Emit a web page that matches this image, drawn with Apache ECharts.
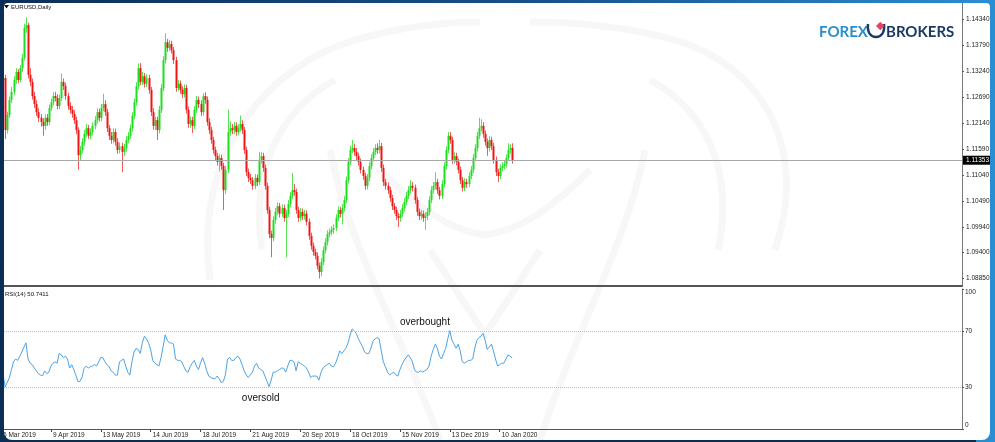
<!DOCTYPE html>
<html><head><meta charset="utf-8">
<script src="https://cdn.jsdelivr.net/npm/echarts@6/dist/echarts.min.js"></script>
<style>html,body{margin:0;padding:0;background:#fff;}#c{width:995px;height:442px;}</style>
</head><body><div id="c"></div>
<script>
// ---------- data ----------
const symbolTitle = 'EURUSD,Daily';
const tickLabels = ['6 Mar 2019','9 Apr 2019','13 May 2019','14 Jun 2019','18 Jul 2019','21 Aug 2019','20 Sep 2019','18 Oct 2019','15 Nov 2019','13 Dec 2019','10 Jan 2020'];
const tickEvery = 24;      // bars between date labels
const slotCount = 463;     // bar slots visible on the chart
const priceTicks = [1.14340,1.13790,1.13240,1.12690,1.12140,1.11590,1.11040,1.10490,1.09940,1.09400,1.08850];
const priceMin = 1.08692, priceMax = 1.14679;
const rsiTicks = [0,30,70,100];
const rsiLevels = [70,30];
const lastPrice = 1.11353;

const closes = [1.1305,1.1309,1.1199,1.1231,1.1263,1.1280,1.1305,1.1322,1.1305,1.1330,
1.1352,1.1415,1.1421,1.1316,1.1301,1.1271,1.1254,1.1237,1.1225,1.1216,
1.1208,1.1225,1.1216,1.1246,1.1258,1.1271,1.1267,1.1250,1.1267,1.1301,
1.1292,1.1271,1.1250,1.1242,1.1233,1.1220,1.1199,1.1146,1.1157,1.1174,
1.1191,1.1203,1.1187,1.1195,1.1208,1.1220,1.1237,1.1225,1.1246,1.1254,
1.1237,1.1203,1.1187,1.1178,1.1195,1.1174,1.1157,1.1165,1.1153,1.1161,
1.1178,1.1187,1.1203,1.1229,1.1258,1.1292,1.1330,1.1301,1.1313,1.1297,
1.1309,1.1284,1.1237,1.1208,1.1220,1.1199,1.1242,1.1288,1.1347,1.1385,
1.1373,1.1381,1.1368,1.1347,1.1288,1.1297,1.1284,1.1275,1.1288,1.1242,
1.1212,1.1220,1.1208,1.1242,1.1263,1.1254,1.1237,1.1271,1.1263,1.1216,
1.1199,1.1178,1.1157,1.1144,1.1132,1.1140,1.1123,1.1072,1.1115,1.1195,
1.1203,1.1199,1.1208,1.1195,1.1203,1.1212,1.1199,1.1157,1.1110,1.1098,
1.1093,1.1081,1.1098,1.1089,1.1136,1.1144,1.1119,1.1081,1.1030,1.0979,
1.0971,1.1009,1.1026,1.1038,1.1022,1.1034,1.1013,1.1022,1.1043,1.1060,
1.1072,1.1068,1.1030,1.1013,1.1026,1.1017,1.1022,1.1005,1.0975,1.0954,
1.0941,1.0933,1.0912,1.0899,1.0920,1.0945,1.0962,1.0979,1.0983,1.0988,
1.0992,1.1013,1.1030,1.1022,1.1034,1.1051,1.1093,1.1132,1.1157,1.1161,
1.1153,1.1144,1.1132,1.1115,1.1102,1.1081,1.1098,1.1123,1.1140,1.1153,
1.1161,1.1157,1.1165,1.1119,1.1089,1.1081,1.1072,1.1055,1.1038,1.1030,
1.1017,1.1013,1.1022,1.1034,1.1047,1.1060,1.1072,1.1081,1.1077,1.1051,
1.1026,1.1017,1.1022,1.1013,1.1017,1.1026,1.1051,1.1072,1.1081,1.1089,
1.1072,1.1060,1.1085,1.1123,1.1157,1.1187,1.1178,1.1136,1.1144,1.1132,
1.1115,1.1093,1.1077,1.1089,1.1085,1.1102,1.1115,1.1140,1.1161,1.1187,
1.1203,1.1208,1.1191,1.1174,1.1161,1.1178,1.1165,1.1136,1.1110,1.1102,
1.1119,1.1123,1.1127,1.1140,1.1157,1.1161,1.11353];

const opens = [1.1290,1.1305,1.1309,1.1199,1.1231,1.1263,1.1280,1.1305,1.1322,1.1305,
1.1330,1.1352,1.1415,1.1421,1.1316,1.1301,1.1271,1.1254,1.1237,1.1225,
1.1216,1.1208,1.1225,1.1216,1.1246,1.1258,1.1271,1.1267,1.1250,1.1267,
1.1301,1.1292,1.1271,1.1250,1.1242,1.1233,1.1220,1.1199,1.1146,1.1157,
1.1174,1.1191,1.1203,1.1187,1.1195,1.1208,1.1220,1.1237,1.1225,1.1246,
1.1254,1.1237,1.1203,1.1187,1.1178,1.1195,1.1174,1.1157,1.1165,1.1153,
1.1161,1.1178,1.1187,1.1203,1.1229,1.1258,1.1292,1.1330,1.1301,1.1313,
1.1297,1.1309,1.1284,1.1237,1.1208,1.1220,1.1199,1.1242,1.1288,1.1347,
1.1385,1.1373,1.1381,1.1368,1.1347,1.1288,1.1297,1.1284,1.1275,1.1288,
1.1242,1.1212,1.1220,1.1208,1.1242,1.1263,1.1254,1.1237,1.1271,1.1263,
1.1216,1.1199,1.1178,1.1157,1.1144,1.1132,1.1140,1.1123,1.1072,1.1115,
1.1195,1.1203,1.1199,1.1208,1.1195,1.1203,1.1212,1.1199,1.1157,1.1110,
1.1098,1.1093,1.1081,1.1098,1.1089,1.1136,1.1144,1.1119,1.1081,1.1030,
1.0979,1.0971,1.1009,1.1026,1.1038,1.1022,1.1034,1.1013,1.1022,1.1043,
1.1060,1.1072,1.1068,1.1030,1.1013,1.1026,1.1017,1.1022,1.1005,1.0975,
1.0954,1.0941,1.0933,1.0912,1.0899,1.0920,1.0945,1.0962,1.0979,1.0983,
1.0988,1.0992,1.1013,1.1030,1.1022,1.1034,1.1051,1.1093,1.1132,1.1157,
1.1161,1.1153,1.1144,1.1132,1.1115,1.1102,1.1081,1.1098,1.1123,1.1140,
1.1153,1.1161,1.1157,1.1165,1.1119,1.1089,1.1081,1.1072,1.1055,1.1038,
1.1030,1.1017,1.1013,1.1022,1.1034,1.1047,1.1060,1.1072,1.1081,1.1077,
1.1051,1.1026,1.1017,1.1022,1.1013,1.1017,1.1026,1.1051,1.1072,1.1081,
1.1089,1.1072,1.1060,1.1085,1.1123,1.1157,1.1187,1.1178,1.1136,1.1144,
1.1132,1.1115,1.1093,1.1077,1.1089,1.1085,1.1102,1.1115,1.1140,1.1161,
1.1187,1.1203,1.1208,1.1191,1.1174,1.1161,1.1178,1.1165,1.1136,1.1110,
1.1102,1.1119,1.1123,1.1127,1.1140,1.1157,1.1161];

const highs = [1.1312,1.1318,1.1316,1.1238,1.1270,1.1290,1.1313,1.1330,1.1328,1.1337,
1.1360,1.1424,1.1437,1.1426,1.1330,1.1308,1.1280,1.1262,1.1245,1.1233,
1.1224,1.1232,1.1233,1.1253,1.1266,1.1279,1.1280,1.1275,1.1274,1.1319,
1.1308,1.1299,1.1278,1.1258,1.1250,1.1241,1.1228,1.1205,1.1166,1.1182,
1.1199,1.1212,1.1210,1.1203,1.1215,1.1229,1.1245,1.1244,1.1254,1.1276,
1.1262,1.1244,1.1210,1.1195,1.1203,1.1202,1.1182,1.1173,1.1172,1.1170,
1.1186,1.1195,1.1211,1.1237,1.1266,1.1300,1.1340,1.1341,1.1322,1.1320,
1.1317,1.1316,1.1290,1.1245,1.1228,1.1227,1.1250,1.1296,1.1355,1.1404,
1.1392,1.1390,1.1388,1.1375,1.1354,1.1305,1.1304,1.1292,1.1296,1.1295,
1.1249,1.1228,1.1227,1.1250,1.1271,1.1270,1.1262,1.1277,1.1279,1.1270,
1.1224,1.1206,1.1185,1.1164,1.1151,1.1148,1.1147,1.1130,1.1123,1.1242,
1.1218,1.1212,1.1216,1.1215,1.1211,1.1230,1.1220,1.1206,1.1164,1.1118,
1.1106,1.1100,1.1106,1.1105,1.1153,1.1152,1.1151,1.1126,1.1088,1.1037,
1.0986,1.1017,1.1034,1.1046,1.1045,1.1042,1.1041,1.1030,1.1051,1.1068,
1.1108,1.1085,1.1075,1.1037,1.1034,1.1033,1.1030,1.1029,1.1012,1.0982,
1.0961,1.0948,1.0940,1.0919,1.0928,1.0953,1.0970,1.0987,1.0991,1.0996,
1.1000,1.1021,1.1038,1.1037,1.1042,1.1059,1.1101,1.1140,1.1166,1.1178,
1.1170,1.1161,1.1151,1.1139,1.1122,1.1109,1.1106,1.1131,1.1148,1.1161,
1.1169,1.1171,1.1178,1.1172,1.1126,1.1096,1.1088,1.1079,1.1062,1.1045,
1.1037,1.1024,1.1030,1.1042,1.1055,1.1068,1.1080,1.1093,1.1089,1.1084,
1.1058,1.1033,1.1030,1.1029,1.1025,1.1034,1.1059,1.1080,1.1089,1.1110,
1.1096,1.1079,1.1093,1.1131,1.1165,1.1195,1.1195,1.1185,1.1152,1.1151,
1.1139,1.1122,1.1100,1.1097,1.1096,1.1110,1.1123,1.1148,1.1169,1.1195,
1.1225,1.1222,1.1216,1.1198,1.1181,1.1186,1.1185,1.1172,1.1143,1.1117,
1.1127,1.1131,1.1135,1.1148,1.1171,1.1169,1.1171];

const lows = [1.1284,1.1298,1.1180,1.1192,1.1225,1.1256,1.1274,1.1297,1.1298,1.1300,
1.1322,1.1346,1.1405,1.1308,1.1292,1.1264,1.1246,1.1229,1.1216,1.1206,
1.1187,1.1200,1.1208,1.1210,1.1239,1.1251,1.1260,1.1243,1.1243,1.1260,
1.1284,1.1263,1.1242,1.1234,1.1225,1.1212,1.1190,1.1115,1.1136,1.1150,
1.1166,1.1184,1.1180,1.1179,1.1188,1.1201,1.1213,1.1217,1.1218,1.1239,
1.1229,1.1195,1.1178,1.1170,1.1171,1.1166,1.1149,1.1150,1.1110,1.1145,
1.1154,1.1171,1.1180,1.1196,1.1222,1.1251,1.1285,1.1294,1.1294,1.1289,
1.1290,1.1276,1.1229,1.1200,1.1199,1.1178,1.1192,1.1235,1.1281,1.1340,
1.1365,1.1366,1.1361,1.1339,1.1280,1.1281,1.1276,1.1267,1.1268,1.1234,
1.1204,1.1204,1.1193,1.1201,1.1235,1.1246,1.1229,1.1230,1.1255,1.1208,
1.1191,1.1170,1.1149,1.1136,1.1124,1.1112,1.1115,1.1030,1.1064,1.1108,
1.1187,1.1190,1.1191,1.1187,1.1188,1.1196,1.1191,1.1149,1.1102,1.1089,
1.1085,1.1073,1.1074,1.1081,1.1083,1.1128,1.1111,1.1073,1.1022,1.0970,
1.0930,1.0964,1.1001,1.1019,1.1014,1.1015,1.1005,1.0930,1.1015,1.1036,
1.1053,1.1060,1.1022,1.1005,1.1006,1.1009,1.1010,1.0997,1.0967,1.0946,
1.0933,1.0925,1.0904,1.0885,1.0890,1.0913,1.0938,1.0955,1.0972,1.0976,
1.0980,1.0985,1.1006,1.1014,1.1000,1.1027,1.1044,1.1086,1.1125,1.1150,
1.1145,1.1136,1.1124,1.1107,1.1094,1.1073,1.1074,1.1091,1.1116,1.1133,
1.1146,1.1149,1.1150,1.1111,1.1081,1.1073,1.1064,1.1047,1.1030,1.1022,
1.1009,1.0994,1.1005,1.1015,1.1027,1.1040,1.1053,1.1065,1.1069,1.1043,
1.1018,1.1009,1.1010,1.1005,1.0988,1.1009,1.1019,1.1044,1.1065,1.1074,
1.1064,1.1052,1.1053,1.1078,1.1116,1.1150,1.1170,1.1128,1.1128,1.1124,
1.1107,1.1085,1.1069,1.1070,1.1077,1.1078,1.1095,1.1108,1.1133,1.1154,
1.1180,1.1196,1.1183,1.1166,1.1145,1.1154,1.1157,1.1128,1.1102,1.1089,
1.1095,1.1112,1.1116,1.1120,1.1133,1.1149,1.1128];

const rsi = [40.5,38.5,30,33.5,36.5,42.5,48,50,49,52,
55,58.5,61.5,50,47,46,43.5,41.5,39.5,38.5,
38,41.5,39.5,40.5,45,47,48,47,54,53,
51,52,50,43.5,46,42.5,38.5,34,34,37,
43.5,45,43.5,44.5,45,46,45,48,51,51,
48,46,44.5,41.5,40.5,38.5,38.5,48,49,50,
45,40.5,38.5,48,55,57.5,56.8,54,61.5,66.3,
64.4,61.5,56.8,49,47,46,45,51,58.7,67.2,
63.4,61.5,61.5,60.6,50,49,49,48,44.5,41.5,
40.5,44.5,47,49,45,42.5,47,51,47,41.5,
37.8,36.8,35.9,35.9,37.8,35.9,33,34,38.7,50,
51,49,49,51,52,50,46,41.5,38.7,36.8,
38.7,40.6,45,47,43.5,42.5,41.5,37.8,34,30.2,
34.9,40.6,40.6,41.6,42.5,43.5,43.5,40.6,45,49,
49,48,41.6,48,47,46,45,43.5,40.6,36.8,
37.8,37.8,37.8,34.9,40.6,43.5,45,46,47,45,
44.5,47,51,55.8,53.9,55.8,57.7,61.5,67.2,71.5,
70.1,68.2,64.4,61.5,58.7,54.9,53.9,53.9,57.7,62.5,
64.4,65.3,64.4,55.8,48,44.5,40.6,38.7,39.7,40.6,
38.7,37.8,42.5,46,49,51,53,51,48,42.5,
40.6,40.6,41.6,40.6,41.6,42.5,45,52,56.8,60.6,
57.7,52,50,53.9,57.7,64.4,70.3,63.4,60.6,57.7,
60.6,55.8,48,47,48,49,49,50,57.7,63.4,
65.3,66.3,68.3,63.4,56.8,58.7,60.6,55.8,50,45,
46,47,47,50,53,52,50.7411];

const rsiNotes = [
  { text: 'overbought', bar: 204, value: 76.6 },
  { text: 'oversold',   bar: 125, value: 21.9 }
];

// ---------- chart ----------
const slots = Array.from({ length: slotCount }, (_, i) => i);
const candles = closes.map((c, i) => [i, opens[i], c, lows[i], highs[i]]);
const labelFont = 'Liberation Sans, Arial, sans-serif';
const isDateTick = (i) => i % tickEvery === 0 && i / tickEvery < tickLabels.length;
const candleColors = { upBody: '#1edc1e', upWick: '#55e255', downBody: '#f01414', downWick: '#f25a5a' };

const chart = echarts.init(document.getElementById('c'), null, { renderer: 'canvas' });

function renderCandle(params, api) {
  const i = api.value(0), o = api.value(1), c = api.value(2), l = api.value(3), h = api.value(4);
  const pO = api.coord([i, o]), pC = api.coord([i, c]), pL = api.coord([i, l]), pH = api.coord([i, h]);
  const up = c >= o;
  const wx = Math.round(pO[0]) + 0.5;
  const top = Math.min(pO[1], pC[1]), bot = Math.max(pO[1], pC[1]);
  return { type: 'group', children: [
    { type: 'rect', shape: { x: wx - 0.5, y: pH[1], width: 1, height: Math.max(1, pL[1] - pH[1]) },
      style: { fill: up ? candleColors.upWick : candleColors.downWick, stroke: null } },
    { type: 'rect', shape: { x: wx - 1, y: top, width: 2, height: Math.max(1, bot - top) },
      style: { fill: up ? candleColors.upBody : candleColors.downBody, stroke: null } }
  ] };
}

// faint background logo (decorative)
const wmStroke = { fill: null, stroke: 'rgba(0,0,0,0.03)', lineWidth: 7 };
const wmCurves = [
  [210,280,195,170,250,80,340,45],[340,45,390,28,440,22,480,22],
  [262,250,250,170,280,110,335,80],
  [775,250,805,160,775,80,690,45],[690,45,640,28,580,22,530,22],
  [718,250,735,170,705,110,650,80],
  [330,150,350,250,400,330,440,440],
  [645,150,625,250,575,330,540,440],
  [380,170,420,210,450,230,485,235],[485,235,520,230,550,210,590,170]
];
const watermark = wmCurves.map(c => ({ type: 'bezierCurve', z: -10, silent: true,
  shape: { x1: c[0], y1: c[1], cpx1: c[2], cpy1: c[3], cpx2: c[4], cpy2: c[5], x2: c[6], y2: c[7] },
  style: wmStroke }));
watermark.push({ type: 'polyline', z: -10, silent: true,
  shape: { points: [[430, 250], [485, 335], [540, 250]] }, style: wmStroke });

const option = {
  animation: false,
  backgroundColor: '#ffffff',
  grid: [
    { left: -1, right: 33, top: 3, height: 283 },
    { left: -1, right: 33, top: 289, height: 140 }
  ],
  xAxis: [
    { type: 'category', gridIndex: 0, data: slots, boundaryGap: true,
      axisLine: { show: true, lineStyle: { color: '#555', width: 2 } },
      axisTick: { show: false }, axisLabel: { show: false }, splitLine: { show: false } },
    { type: 'category', gridIndex: 1, data: slots, boundaryGap: true,
      axisLine: { show: true, lineStyle: { color: '#555', width: 1 } },
      axisTick: { show: true, alignWithLabel: true, length: 3, interval: isDateTick,
        lineStyle: { color: '#444' } },
      axisLabel: { show: true, interval: isDateTick, align: 'left',
        margin: 3, padding: [0, 0, 0, 2], fontSize: 6.5, color: '#222', fontFamily: labelFont,
        formatter: (v, i) => tickLabels[i / tickEvery] || '' },
      splitLine: { show: false } }
  ],
  yAxis: [
    { type: 'value', gridIndex: 0, position: 'right', min: priceMin, max: priceMax, scale: true,
      axisLine: { show: true, lineStyle: { color: '#777' } },
      axisTick: { show: true, length: 2, customValues: priceTicks, lineStyle: { color: '#555' } },
      axisLabel: { show: true, customValues: priceTicks, margin: 4, fontSize: 6.5, color: '#222',
        fontFamily: labelFont, formatter: (v) => v.toFixed(5) },
      splitLine: { show: false } },
    { type: 'value', gridIndex: 1, position: 'right', min: 0, max: 100,
      axisLine: { show: true, lineStyle: { color: '#777' } },
      axisTick: { show: true, length: 2, customValues: rsiTicks, lineStyle: { color: '#555' } },
      axisLabel: { show: true, customValues: rsiTicks, margin: 3, fontSize: 6.5, color: '#222',
        fontFamily: labelFont, verticalAlignMaxLabel: 'top', verticalAlignMinLabel: 'bottom' },
      splitLine: { show: false } }
  ],
  series: [
    // current price line (empty carrier series for the markLine)
    { type: 'line', xAxisIndex: 0, yAxisIndex: 0, data: [], symbol: 'none', silent: true, z: 1,
      lineStyle: { width: 0, opacity: 0 },
      markLine: { silent: true, symbol: ['none', 'none'], precision: 5,
        data: [{ yAxis: lastPrice }],
        lineStyle: { color: '#a8a8a8', width: 1, type: 'solid' },
        label: { show: true, position: 'end', distance: 1, formatter: lastPrice.toFixed(5),
          backgroundColor: '#000', color: '#fff', fontSize: 6.5, fontFamily: labelFont, padding: [1, 3] } } },
    { type: 'custom', xAxisIndex: 0, yAxisIndex: 0, data: candles, renderItem: renderCandle, z: 3,
      clip: true, silent: true, encode: { x: 0, y: [1, 2, 3, 4] } },
    { type: 'line', xAxisIndex: 1, yAxisIndex: 1, data: rsi, showSymbol: false, symbol: 'none',
      lineStyle: { color: '#4da3e8', width: 1 },
      markLine: { silent: true, symbol: ['none', 'none'],
        data: rsiLevels.map(v => ({ yAxis: v })),
        lineStyle: { color: '#bdbdbd', width: 1, type: 'dotted' }, label: { show: false } },
      markPoint: { silent: true, symbol: 'circle', symbolSize: 0,
        data: rsiNotes.map(n => ({ coord: [n.bar, n.value], value: n.text })),
        label: { show: true, position: 'inside', formatter: (p) => p.value, color: '#111', fontSize: 10,
          fontFamily: labelFont } } }
  ],
  graphic: watermark.concat([
    // frame
    { type: 'rect', z: 100, silent: true,
      shape: { x: -6, y: -7, width: 1006, height: 457, r: [14, 14, 18, 18] },
      style: { fill: null, lineWidth: 20,
        stroke: { type: 'linear', x: 0, y: 0, x2: 1, y2: 0,
          colorStops: [{ offset: 0, color: '#0b2d55' }, { offset: 0.55, color: '#17528c' }, { offset: 1, color: '#2b90d6' }] } } },
    { type: 'rect', z: 101, silent: true, shape: { x: 8, y: 440, width: 968, height: 2 }, style: { fill: '#0d2c52' } },
    // title
    { type: 'polygon', z: 50, silent: true, shape: { points: [[4, 5], [9, 5], [6.5, 8.5]] }, style: { fill: '#111' } },
    { type: 'text', z: 50, silent: true, x: 11, y: 7,
      style: { text: symbolTitle, fontSize: 6, fontFamily: labelFont, fill: '#111', verticalAlign: 'middle' } },
    { type: 'text', z: 50, silent: true, x: 5, y: 294,
      style: { text: 'RSI(14) ' + rsi[rsi.length - 1].toFixed(4), fontSize: 6, fontFamily: labelFont, fill: '#111', verticalAlign: 'middle' } },
    // logo
    { type: 'text', z: 50, silent: true, x: 819, y: 32,
      style: { text: 'FOREX', fontSize: 15, fontWeight: 'bold', fontFamily: 'Lato, sans-serif', fill: '#2a8fd0', verticalAlign: 'middle' } },
    { type: 'bezierCurve', z: 50, silent: true,
      shape: { x1: 868, y1: 24, cpx1: 867, cpy1: 33, cpx2: 871, cpy2: 37, x2: 876, y2: 37 },
      style: { fill: null, stroke: '#1b3a63', lineWidth: 2.5 } },
    { type: 'bezierCurve', z: 50, silent: true,
      shape: { x1: 876, y1: 37, cpx1: 881, cpy1: 37, cpx2: 885, cpy2: 33, x2: 884, y2: 24 },
      style: { fill: null, stroke: '#1b3a63', lineWidth: 2.5 } },
    { type: 'rect', z: 51, silent: true, x: 876, y: 26, rotation: Math.PI / 4,
      shape: { x: 0, y: 0, width: 6, height: 6 }, style: { fill: '#e2455e' } },
    { type: 'text', z: 50, silent: true, x: 886, y: 32,
      style: { text: 'BROKERS', fontSize: 15, fontWeight: 'bold', fontFamily: 'Lato, sans-serif', fill: '#1b3a63', verticalAlign: 'middle' } }
  ])
};
chart.setOption(option);
</script>
</body></html>
